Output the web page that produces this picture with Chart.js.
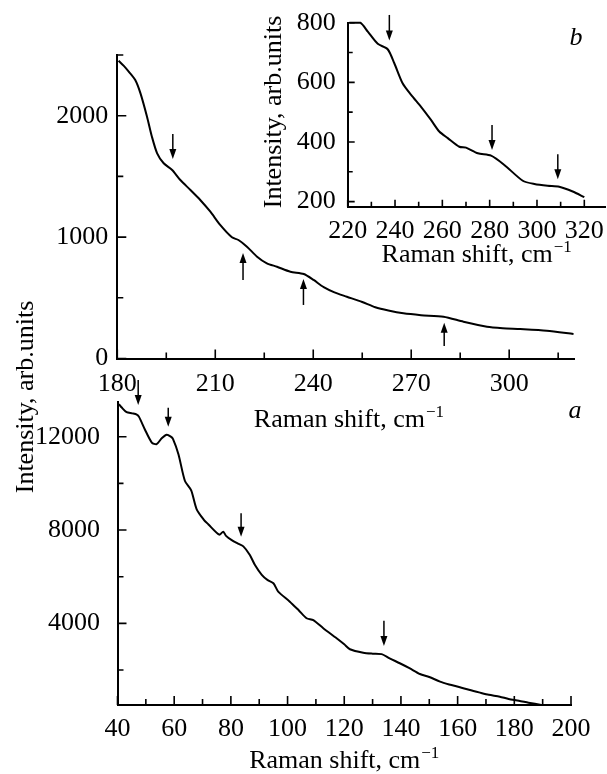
<!DOCTYPE html>
<html>
<head>
<meta charset="utf-8">
<script src="https://cdn.jsdelivr.net/npm/chart.js@4.4.0/dist/chart.umd.min.js"></script>
<style>
  html, body { margin: 0; padding: 0; background: #fff; }
  #wrap { position: relative; width: 607px; height: 774px; background: #fff; }
  #wrap canvas { position: absolute; left: 0; top: 0; }
</style>
</head>
<body>
<div id="wrap">
  <canvas id="chartA" width="607" height="774"></canvas>
  <canvas id="chartC" width="607" height="774"></canvas>
  <canvas id="chartB" width="607" height="774"></canvas>
</div>
<script>
// panel a (40-200 cm-1)
const shiftA = [40.5, 41.5, 43.2, 45.2, 46.8, 47.6, 49.7, 52.1, 53.8, 55.6, 57.4, 58.8, 59.6, 61.5, 63.8, 66.0, 67.9, 70.4, 72.0, 75.9,
  77.3, 78.3, 80.3, 82.5, 84.4, 86.7, 88.5, 90.9, 93.0, 95.0, 96.7, 100.8, 104.0, 106.7, 109.1, 112.6, 117.3, 120.0, 122.0, 126.7,
  130.0, 133.2, 136.0, 139.6, 143.0, 146.7, 150.0, 153.8, 157.0, 160.8, 164.0, 167.9, 171.0, 174.9, 178.0, 181.6, 185.0, 189.5];
const intensityA = [13400, 13250, 13050, 13000, 12950, 12850, 12300, 11750, 11680, 11930, 12080, 12000, 11900, 11250, 10100, 9700, 8900, 8450, 8250, 7800,
  7930, 7750, 7570, 7420, 7300, 6930, 6500, 6080, 5850, 5720, 5360, 4930, 4550, 4220, 4140, 3790, 3360, 3100, 2890, 2740,
  2700, 2680, 2500, 2290, 2080, 1830, 1700, 1500, 1380, 1260, 1150, 1030, 940, 857, 760, 686, 600, 500];
const xTicksA = [40, 60, 80, 100, 120, 140, 160, 180, 200];
const xMinorA = [50, 70, 90, 110, 130, 150, 170, 190];
const yTicksA = [4000, 8000, 12000];
const yMinorA = [2000, 6000, 10000];
const arrowsA = [[47.3, 14430, 13360], [57.9, 13243, 12429], [83.6, 8717, 7714], [134.0, 4114, 3030]]; // x, tail, tip

// upper-left panel (180-320 cm-1)
const shiftC = [180.4, 182.0, 183.5, 185.5, 187.1, 189.1, 190.6, 192.2, 194.2, 196.8, 199.3, 202.4, 205.4, 208.5, 211.5, 215.1, 217.1, 219.7, 222.8, 225.8,
  228.9, 233.0, 237.1, 240.1, 243.2, 246.5, 250.3, 255.0, 259.0, 263.0, 267.6, 273.0, 279.9, 286.0, 293.2, 298.0, 303.4, 311.5, 319.7];
const intensityC = [2453, 2410, 2363, 2294, 2184, 1992, 1827, 1690, 1608, 1553, 1470, 1388, 1306, 1209, 1100, 998, 976, 921, 839, 784,
  756, 715, 696, 647, 588, 545, 509, 465, 422, 395, 372, 357, 344, 303, 262, 250, 243, 229, 202];
const xTicksC = [180, 210, 240, 270, 300];
const xMinorC = [195, 225, 255, 285, 315];
const yTicksC = [0, 1000, 2000];
const yMinorC = [500, 1500, 2500];
const arrowsC = [[197.0, 1849, 1643], [218.5, 647, 869], [237.0, 441, 655], [280.1, 103, 295]];

// inset b (220-330 cm-1)
const shiftB = [220.7, 225.3, 228.5, 232.7, 236.9, 239.7, 243.2, 246.8, 251.0, 255.2, 258.7, 262.3, 267.2, 270.0, 275.0, 280.6, 286.2, 294.0, 298.9, 304.5, 309.4, 315.1, 320.0];
const intensityB = [800, 800, 770, 729, 711, 664, 597, 558, 518, 474, 435, 413, 384, 381, 362, 354, 323, 270, 259, 253, 250, 234, 215];
const xTicksB = [220, 240, 260, 280, 300, 320];
const xMinorB = [230, 250, 270, 290, 310];
const yTicksB = [200, 400, 600, 800];
const yMinorB = [300, 500, 700];
const arrowsB = [[237.6, 826, 740], [281.0, 457, 373], [308.8, 359, 275]];

const FAMILY = "'Liberation Serif', 'Times New Roman', serif";
Chart.defaults.font.family = FAMILY;
Chart.defaults.font.size = 26;
Chart.defaults.color = '#000';

const zip = (xs, ys) => xs.map((x, i) => ({ x: x, y: ys[i] }));

function drawText(ctx, t, ca) {
  const size = t.size || 26;
  const font = (t.italic ? 'italic ' : '') + size + 'px ' + FAMILY;
  const supFont = Math.round(size * 0.66) + 'px ' + FAMILY;
  ctx.save();
  ctx.translate(t.x(ca), t.y(ca));
  if (t.rotate) ctx.rotate(-Math.PI / 2);
  ctx.font = font;
  const w1 = ctx.measureText(t.text).width;
  let w2 = 0;
  if (t.sup) { ctx.font = supFont; w2 = ctx.measureText(t.sup).width + 1; }
  const start = -(w1 + w2) / 2;
  ctx.textAlign = 'left';
  ctx.textBaseline = t.rotate ? 'middle' : 'alphabetic';
  ctx.font = font;
  ctx.fillText(t.text, start, 0);
  if (t.sup) {
    ctx.font = supFont;
    ctx.fillText(t.sup, start + w1 + 1, -size * 0.38);
  }
  ctx.restore();
}

// inward tick marks, arrows and free text
function makeInk(cfg) {
  return {
    id: 'ink',
    afterDraw(chart) {
      const { ctx, chartArea: ca } = chart;
      const xs = chart.scales.x, ys = chart.scales.y;
      ctx.save();
      ctx.strokeStyle = '#000';
      ctx.fillStyle = '#000';
      ctx.lineWidth = 1.6;
      ctx.beginPath();
      const xt = (vals, len) => vals.forEach(v => {
        const p = xs.getPixelForValue(v);
        ctx.moveTo(p, ca.bottom); ctx.lineTo(p, ca.bottom - len);
      });
      const yt = (vals, len) => vals.forEach(v => {
        const p = ys.getPixelForValue(v);
        ctx.moveTo(ca.left, p); ctx.lineTo(ca.left + len, p);
      });
      xt(cfg.xMajor, cfg.major); xt(cfg.xMinor, cfg.minor);
      yt(cfg.yMajor, cfg.major); yt(cfg.yMinor, cfg.minor);
      ctx.stroke();

      ctx.lineWidth = 1.5;
      cfg.arrows.forEach(([v, tail, tip]) => {
        const px = xs.getPixelForValue(v);
        const y0 = ys.getPixelForValue(tail), y1 = ys.getPixelForValue(tip);
        const dir = Math.sign(y1 - y0);
        ctx.beginPath();
        ctx.moveTo(px, y0); ctx.lineTo(px, y1 - dir * 8);
        ctx.stroke();
        ctx.beginPath();
        ctx.moveTo(px, y1);
        ctx.lineTo(px - 3.5, y1 - dir * 10);
        ctx.lineTo(px + 3.5, y1 - dir * 10);
        ctx.closePath();
        ctx.fill();
      });

      cfg.texts.forEach(t => drawText(ctx, t, ca));
      ctx.restore();
    }
  };
}

function scalesFor(xr, yr) {
  return {
    x: {
      type: 'linear', min: xr.min, max: xr.max,
      afterBuildTicks: s => { s.ticks = xr.ticks.map(v => ({ value: v })); },
      afterFit: s => { s.height = 40; s.paddingLeft = 0; s.paddingRight = 0; },
      grid: { display: false },
      border: { display: true, color: '#000', width: 2 },
      ticks: { padding: xr.pad, maxRotation: 0, minRotation: 0, autoSkip: false, callback: v => String(v) }
    },
    y: {
      type: 'linear', min: yr.min, max: yr.max,
      afterBuildTicks: s => { s.ticks = yr.ticks.map(v => ({ value: v })); },
      afterFit: s => { s.width = yr.width; s.paddingTop = 0; s.paddingBottom = 0; },
      grid: { display: false },
      border: { display: true, color: '#000', width: 2 },
      ticks: { padding: yr.pad, autoSkip: false, callback: v => String(v) }
    }
  };
}

function lineSet(xs, ys) {
  return {
    data: zip(xs, ys), borderColor: '#000', borderWidth: 2, pointRadius: 0,
    tension: 0.25, fill: false, clip: false
  };
}

const baseOpts = {
  responsive: false, animation: false, events: [],
  plugins: { legend: { display: false }, tooltip: { enabled: false } }
};

const TITLE_X = 'Raman shift, cm';
const SUP = '\u22121';

new Chart(document.getElementById('chartA'), {
  type: 'line',
  data: { datasets: [lineSet(shiftA, intensityA)] },
  options: Object.assign({}, baseOpts, {
    layout: { padding: { left: 0, right: 36, top: 401.7, bottom: 29 } },
    scales: scalesFor(
      { min: 40, max: 200, ticks: xTicksA, pad: 1 },
      { min: 500, max: 13500, ticks: yTicksA, pad: 9.5, width: 117.5 })
  }),
  plugins: [makeInk({
    xMajor: xTicksA, xMinor: xMinorA, yMajor: yTicksA, yMinor: yMinorA, major: 9, minor: 6,
    arrows: arrowsA,
    texts: [
      { text: TITLE_X, sup: SUP, x: ca => (ca.left + ca.right) / 2, y: () => 768 },
      { text: 'Intensity, arb.units', rotate: true, x: () => 26, y: () => 397 },
      { text: 'a', italic: true, x: () => 575, y: () => 418 }
    ]
  })]
});

new Chart(document.getElementById('chartC'), {
  type: 'line',
  data: { datasets: [lineSet(shiftC, intensityC)] },
  options: Object.assign({}, baseOpts, {
    layout: { padding: { left: 0, right: 32.5, top: 55, bottom: 375.5 } },
    scales: scalesFor(
      { min: 180, max: 320, ticks: xTicksC, pad: 2 },
      { min: 0, max: 2500, ticks: yTicksC, pad: 1, width: 117.3 })
  }),
  plugins: [makeInk({
    xMajor: xTicksC, xMinor: xMinorC, yMajor: yTicksC, yMinor: yMinorC, major: 9, minor: 6,
    arrows: arrowsC,
    texts: [
      { text: TITLE_X, sup: SUP, x: ca => (ca.left + ca.right) / 2 + 3, y: () => 427 }
    ]
  })]
});

new Chart(document.getElementById('chartB'), {
  type: 'line',
  data: { datasets: [lineSet(shiftB, intensityB)] },
  options: Object.assign({}, baseOpts, {
    layout: { padding: { left: 0, right: 1.4, top: 22.7, bottom: 527.3 } },
    scales: scalesFor(
      { min: 220, max: 329, ticks: xTicksB, pad: 1 },
      { min: 183, max: 800, ticks: yTicksB, pad: 4, width: 347.7 })
  }),
  plugins: [makeInk({
    xMajor: xTicksB, xMinor: xMinorB, yMajor: yTicksB, yMinor: yMinorB, major: 7, minor: 5,
    arrows: arrowsB,
    texts: [
      { text: TITLE_X, sup: SUP, x: ca => (ca.left + ca.right) / 2, y: () => 262 },
      { text: 'Intensity, arb.units', rotate: true, x: () => 274, y: () => 112 },
      { text: 'b', italic: true, x: () => 576, y: () => 45 }
    ]
  })]
});
</script>
</body>
</html>
